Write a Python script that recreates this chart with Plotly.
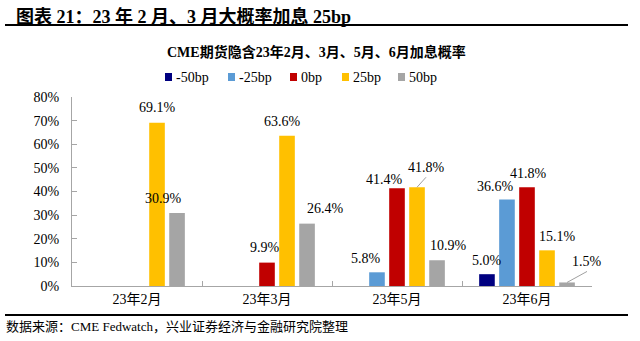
import plotly.graph_objects as go

categories = ["23年2月", "23年3月", "23年5月", "23年6月"]
series_names = ["-50bp", "-25bp", "0bp", "25bp", "50bp"]
colors = ["#000080", "#5B9BD5", "#C00000", "#FFC000", "#A5A5A5"]
v_m50 = [None, None, None, 5.0]
v_m25 = [None, None, 5.8, 36.6]
v_0 = [None, 9.9, 41.4, 41.8]
v_25 = [69.1, 63.6, 41.8, 15.1]
v_50 = [30.9, 26.4, 10.9, 1.5]
values = [v_m50, v_m25, v_0, v_25, v_50]
ytick_vals = [0, 10, 20, 30, 40, 50, 60, 70, 80]
ytick_text = ["0%", "10%", "20%", "30%", "40%", "50%", "60%", "70%", "80%"]

W, H = 640, 341
L, R, T, B = 72, 48, 97, 55
PW, PH = W - L - R, H - T - B

def px_x(px):
    return (px - L) / PW

def px_y(py):
    return (H - B - py) / PH

FONT = "Liberation Serif, 'Times New Roman', 'Noto Sans CJK SC', serif"

fig = go.Figure()
for name, col, vals in zip(series_names, colors, values):
    fig.add_trace(go.Bar(x=categories, y=vals, name=name, marker_color=col,
                         marker_line_width=0, showlegend=False))

# value labels: pixel shift relative to slot centre
slot_w = 20
label_shift = {
    (0, 3): (0, 14),
    (1, 2): (-11, 14), (1, 3): (-12, 13),
    (2, 1): (-2, 15), (2, 2): (-13, 9), (2, 3): (1, 14),
    (3, 0): (0, 15), (3, 1): (-5, 14), (3, 3): (10, 14),
    (4, 0): (-14, 15), (4, 1): (18, 15), (4, 2): (11, 15),
}
arrow_labels = {(3, 2): (9, -10), (4, 3): (20, -11)}
for si, vals in enumerate(values):
    for ci, v in enumerate(vals):
        if v is None:
            continue
        base = (si - 2) * slot_w
        txt = f"{v:.1f}%"
        if (si, ci) in arrow_labels:
            ax, ay = arrow_labels[(si, ci)]
            fig.add_annotation(x=categories[ci], y=v, xshift=base, text=txt,
                               showarrow=True, arrowhead=0, arrowwidth=1,
                               arrowcolor="#A0A0A0", ax=ax, ay=ay,
                               xanchor="center", yanchor="bottom",
                               font=dict(family=FONT, size=14, color="black"))
        else:
            dx, dy = label_shift[(si, ci)]
            fig.add_annotation(x=categories[ci], y=v, xshift=base + dx, yshift=dy,
                               text=txt, showarrow=False,
                               font=dict(family=FONT, size=14, color="black"))

# manual legend (compact, like the reference)
legend_left = [165, 228, 290, 342, 398]
legend_y = 77
for name, col, lx in zip(series_names, colors, legend_left):
    fig.add_shape(type="rect", xref="paper", yref="paper",
                  x0=px_x(lx), x1=px_x(lx + 7), y0=px_y(legend_y + 4), y1=px_y(legend_y - 4),
                  fillcolor=col, line=dict(width=0))
    fig.add_annotation(xref="paper", yref="paper", x=px_x(lx + 9), y=px_y(legend_y),
                       xanchor="left", yanchor="middle", showarrow=False, text=name,
                       font=dict(family=FONT, size=14, color="black"))

# headers
fig.add_annotation(xref="paper", yref="paper", x=px_x(14), y=px_y(16),
                   xanchor="left", yanchor="middle", showarrow=False,
                   text="<b>图表 21：23 年 2 月、3 月大概率加息 25bp</b>",
                   font=dict(family=FONT, size=18, color="black"))
fig.add_annotation(xref="paper", yref="paper", x=px_x(316), y=px_y(52),
                   xanchor="center", yanchor="middle", showarrow=False,
                   text="<b>CME期货隐含23年2月、3月、5月、6月加息概率</b>",
                   font=dict(family=FONT, size=14, color="black"))
fig.add_annotation(xref="paper", yref="paper", x=px_x(4), y=px_y(326),
                   xanchor="left", yanchor="middle", showarrow=False,
                   text="数据来源：CME Fedwatch，兴业证券经济与金融研究院整理",
                   font=dict(family=FONT, size=13, color="black"))
fig.add_shape(type="line", xref="paper", yref="paper", x0=px_x(5), x1=px_x(628),
              y0=px_y(25), y1=px_y(25), line=dict(color="black", width=2))
fig.add_shape(type="line", xref="paper", yref="paper", x0=px_x(5), x1=px_x(628),
              y0=px_y(315), y1=px_y(315), line=dict(color="black", width=2))

fig.update_layout(
    width=W, height=H, margin=dict(l=L, r=R, t=T, b=B, autoexpand=False),
    paper_bgcolor="white", plot_bgcolor="white",
    barmode="group", bargap=0.23, bargroupgap=0.22,
    font=dict(family=FONT, size=14, color="black"),
    showlegend=False,
    xaxis=dict(type="category", range=[-0.5, len(categories) - 0.5], autorange=False,
               showline=True, linecolor="#A6A6A6", linewidth=1,
               ticks="inside", tickson="boundaries", ticklen=5, tickcolor="#A6A6A6",
               tickfont=dict(family=FONT, size=14), showgrid=False),
    yaxis=dict(range=[0, 80], autorange=False, tickvals=ytick_vals, ticktext=ytick_text,
               showline=True, linecolor="#A6A6A6", linewidth=1, ticks="inside",
               ticklen=5, tickcolor="#A6A6A6", showgrid=False, zeroline=False,
               ticklabelstandoff=9, tickfont=dict(family=FONT, size=14)),
)

fig.write_html("out.html")
